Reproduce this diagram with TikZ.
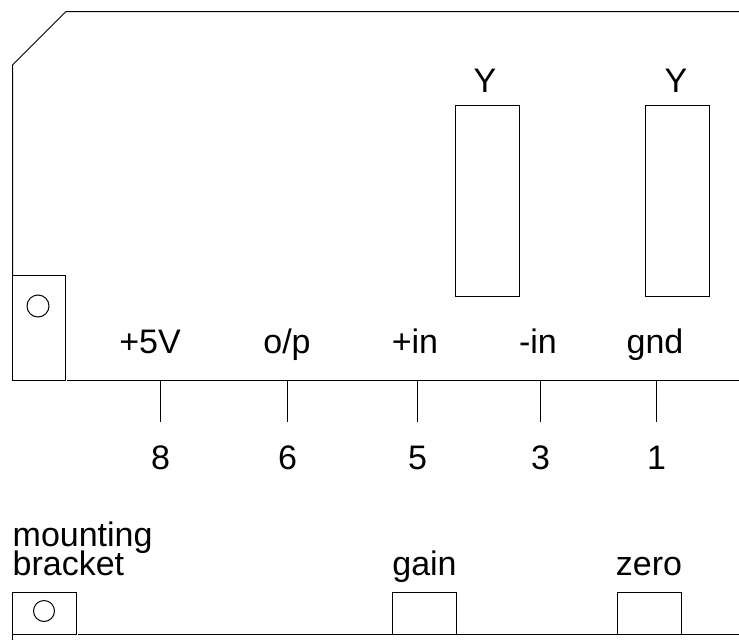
\documentclass[tikz,border=0pt]{standalone}
\usepackage{fontspec}
\setmainfont{Liberation Sans}
\tikzset{
  outline/.style={draw=black,line width=1pt},
  label/.style={inner sep=0pt,font=\fontsize{34pt}{34pt}\selectfont,text=black},
  pin/.style={outline}
}
\begin{document}
\begin{tikzpicture}[x=1pt,y=-1pt]
\useasboundingbox (0,0) rectangle (739,640);
% board outline
\draw[outline] (739,11.5) -- (66,11.5) -- (12.5,65) -- (12.5,275);
\draw[outline] (12.5,275.5) rectangle (65.5,380.5);
\draw[outline] (67,380.5) -- (739,380.5);
\draw[outline] (38,306) circle (11);
% Y boxes
\draw[outline] (455.5,105.5) rectangle (519,296);
\draw[outline] (645.5,105.5) rectangle (709,296);
\node[label,anchor=base] at (485,92.5) {Y};
\node[label,anchor=base] at (676,92.5) {Y};
% terminal names
\node[label,anchor=base] at (150,353) {+5V};
\node[label,anchor=base] at (287,353) {o/p};
\node[label,anchor=base] at (415,353) {+in};
\node[label,anchor=base] at (538,353) {-in};
\node[label,anchor=base] at (655,353) {gnd};
% pins
\foreach \px/\pn in {160.5/8,287.5/6,417.5/5,540.5/3,656.5/1}{
  \coordinate (top\pn) at (\px,381);
  \node[label,anchor=base] (num\pn) at (\px,469) {\pn};
  \coordinate (end\pn) at (\px,422);
  \draw[pin] (top\pn) -- (end\pn);
}
% lower view
\node[label,anchor=base west] at (12.5,546) {mounting};
\node[label,anchor=base west] at (12.5,575) {bracket};
\node[label,anchor=base] at (424.5,575) {gain};
\node[label,anchor=base] at (649,575) {zero};
\draw[outline] (12.5,592.5) rectangle (76.5,634);
\draw[outline] (12.5,634) -- (12.5,640);
\draw[outline] (78,634) -- (739,634);
\draw[outline] (44,611) circle (10.5);
\draw[outline] (392.5,592.5) rectangle (456,634);
\draw[outline] (617.5,592.5) rectangle (681,634);
\end{tikzpicture}
\end{document}
